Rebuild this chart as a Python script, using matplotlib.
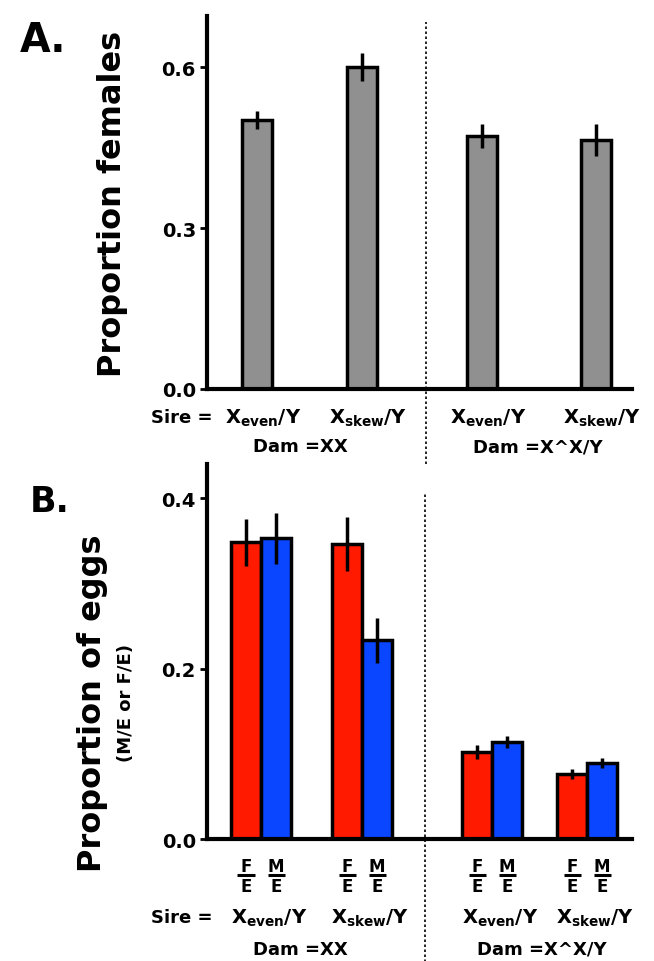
import numpy as np
import matplotlib
matplotlib.use("Agg")
import matplotlib.pyplot as plt

plt.rcParams['font.family'] = ['DejaVu Sans']
plt.rcParams['mathtext.fontset'] = 'dejavusans'

# panel A data
sires = ["even", "skew", "even", "skew"]
females = [0.501, 0.600, 0.471, 0.464]
females_err = [0.017, 0.026, 0.022, 0.030]

# panel B data
fe_vals = [0.348, 0.346, 0.102, 0.076]
fe_err = [0.028, 0.032, 0.008, 0.006]
me_vals = [0.353, 0.233, 0.114, 0.089]
me_err = [0.030, 0.026, 0.007, 0.006]

dams = ["Dam =XX", "Dam =X^X/Y"]

pos_a = np.array([0.50, 1.55, 2.75, 3.89])
pos_b = np.array([0.54, 1.55, 2.85, 3.80])
w = 0.30
gray = '#909090'
red = '#ff1a00'
blue = '#0a45ff'
wt = 'bold'

fig = plt.figure(figsize=(6.54, 9.62), dpi=100)
axA = fig.add_axes([0.3165, 0.5946, 0.65, 0.3877])
axB = fig.add_axes([0.3165, 0.1268, 0.65, 0.3898])

def style(ax, ymax, ticks):
    ax.set_xlim(0, 4.25)
    ax.set_ylim(0, ymax)
    for s in ['top', 'right']:
        ax.spines[s].set_visible(False)
    for s in ['left', 'bottom']:
        ax.spines[s].set_linewidth(3)
    ax.set_xticks([])
    ax.set_yticks(ticks)
    ax.set_yticklabels(['%.1f' % t for t in ticks], fontsize=14, fontweight=wt)
    ax.tick_params(axis='y', length=5, width=2, pad=3)

style(axA, 0.695, [0.0, 0.3, 0.6])
style(axB, 0.44, [0.0, 0.2, 0.4])

# panel A bars
axA.bar(pos_a, females, w, color=gray, edgecolor='black', linewidth=2.5, zorder=2)
axA.errorbar(pos_a, females, yerr=females_err, fmt='none', ecolor='black',
             elinewidth=2.5, capsize=0, zorder=3)
axA.axvline(2.19, ymin=-0.20, ymax=0.985, color='black', linestyle=(0, (1.5, 1.5)),
            linewidth=1.2, clip_on=False)

axA.set_ylabel('Proportion females', fontsize=23, fontweight=wt)
axA.yaxis.set_label_coords(-0.186, 0.5)
fig.text(0.03, 0.957, 'A.', fontsize=28.5, fontweight=wt, va='center')

ta = axA.get_xaxis_transform()
axA.text(0.06, -0.075, 'Sire =', transform=ta, ha='right', va='center',
         fontsize=13, fontweight=wt)
for p, s in zip(pos_a, sires):
    axA.text(p + 0.06, -0.075, 'X$_\\mathregular{%s}$/Y' % s, transform=ta,
             ha='center', va='center', fontsize=14, fontweight=wt)
axA.text(0.93, -0.153, dams[0], transform=ta, ha='center', va='center',
         fontsize=13, fontweight=wt)
axA.text(3.31, -0.153, dams[1], transform=ta, ha='center', va='center',
         fontsize=13, fontweight=wt)

# panel B bars
axB.bar(pos_b - w / 2, fe_vals, w, color=red, edgecolor='black', linewidth=2.5, zorder=2)
axB.bar(pos_b + w / 2, me_vals, w, color=blue, edgecolor='black', linewidth=2.5, zorder=2)
axB.errorbar(pos_b - w / 2, fe_vals, yerr=fe_err, fmt='none', ecolor='black',
             elinewidth=2.5, capsize=0, zorder=3)
axB.errorbar(pos_b + w / 2, me_vals, yerr=me_err, fmt='none', ecolor='black',
             elinewidth=2.5, capsize=0, zorder=3)
axB.axvline(2.18, ymin=-0.33, ymax=0.92, color='black', linestyle=(0, (1.5, 1.5)),
            linewidth=1.2, clip_on=False)

axB.set_ylabel('Proportion of eggs', fontsize=23, fontweight=wt)
axB.yaxis.set_label_coords(-0.233, 0.365)
axB.text(-0.19, 0.365, '(M/E or F/E)', transform=axB.transAxes, rotation=90,
         ha='center', va='center', fontsize=13, fontweight=wt)
fig.text(0.045, 0.478, 'B.', fontsize=25, fontweight=wt, va='center')

tb = axB.get_xaxis_transform()
# F/E and M/E fraction labels under each bar
for p in pos_b:
    for xb, num in [(p - w / 2, 'F'), (p + w / 2, 'M')]:
        axB.text(xb, -0.071, num, transform=tb, ha='center', va='center',
                 fontsize=12, fontweight=wt)
        axB.text(xb, -0.124, 'E', transform=tb, ha='center', va='center',
                 fontsize=12, fontweight=wt)
        axB.plot([xb - 0.085, xb + 0.085], [-0.097, -0.097], transform=tb,
                 color='black', linewidth=2.2, solid_capstyle='butt', clip_on=False)
axB.text(0.06, -0.208, 'Sire =', transform=tb, ha='right', va='center',
         fontsize=13, fontweight=wt)
for p, s in zip(pos_b, sires):
    axB.text(p + 0.08, -0.208, 'X$_\\mathregular{%s}$/Y' % s, transform=tb,
             ha='center', va='center', fontsize=14, fontweight=wt)
axB.text(0.93, -0.293, dams[0], transform=tb, ha='center', va='center',
         fontsize=13, fontweight=wt)
axB.text(3.35, -0.293, dams[1], transform=tb, ha='center', va='center',
         fontsize=13, fontweight=wt)

fig.savefig('out.png', dpi=100)
